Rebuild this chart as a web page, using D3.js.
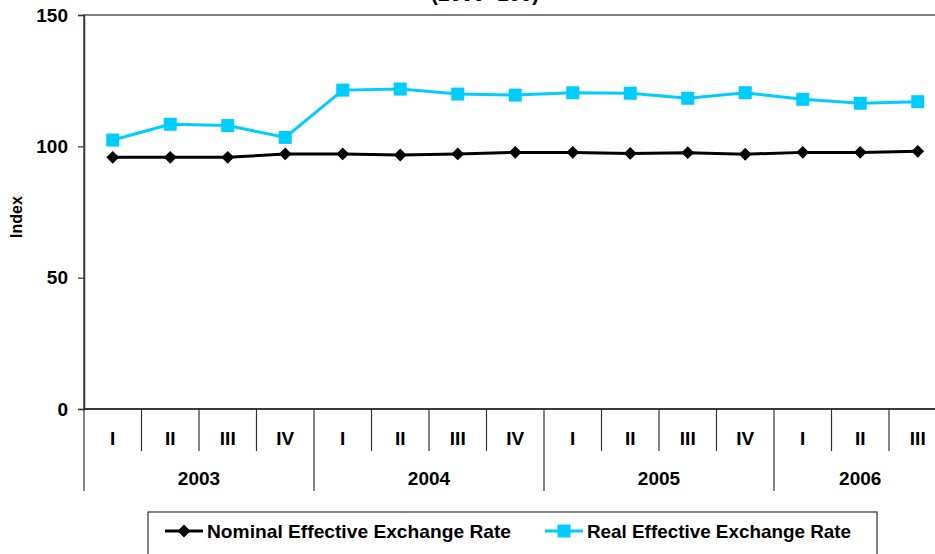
<!DOCTYPE html>
<html>
<head>
<meta charset="utf-8">
<script src="https://cdn.jsdelivr.net/npm/d3@7/dist/d3.min.js"></script>
<style>
  html, body { margin: 0; padding: 0; background: #fff; overflow: hidden; }
  text { font-family: "Liberation Sans", Arial, sans-serif; font-weight: bold; fill: #000; }
</style>
</head>
<body>
<svg id="chart" width="935" height="554"></svg>
<script>
// Quarterly effective exchange rate indices, 2003 Q1 – 2006 Q3 (2000=100)
const quarters = ["I","II","III","IV","I","II","III","IV","I","II","III","IV","I","II","III"];
const years = ["2003","2003","2003","2003","2004","2004","2004","2004","2005","2005","2005","2005","2006","2006","2006"];
const nominal = [95.8, 95.8, 95.8, 97.1, 97.1, 96.7, 97.1, 97.7, 97.7, 97.3, 97.6, 97.0, 97.7, 97.7, 98.1];
const real    = [102.4, 108.4, 107.9, 103.4, 121.4, 121.8, 119.9, 119.5, 120.4, 120.2, 118.3, 120.4, 117.9, 116.4, 117.0];
const yTicks = [0, 50, 100, 150];
const seriesNames = ["Nominal Effective Exchange Rate", "Real Effective Exchange Rate"];

const svg = d3.select("#chart");
const plotLeft = 84, plotTop = 15, plotBottom = 409, bandW = 57.5;
const plotRight = plotLeft + bandW * quarters.length;

const x = d3.scaleBand().domain(d3.range(quarters.length)).range([plotLeft, plotRight]).padding(0);
const y = d3.scaleLinear().domain([0, 150]).range([plotBottom, plotTop]);
const cx = i => x(i) + x.bandwidth() / 2;

// Title (second line)
svg.append("text").attr("x", 485).attr("y", 1).attr("text-anchor", "middle")
  .style("font-size", "21px").text("(2000=100)");

// Plot area border
svg.append("rect").attr("x", plotLeft).attr("y", plotTop).attr("width", plotRight - plotLeft).attr("height", plotBottom - plotTop)
  .attr("fill", "none").attr("stroke", "#808080").attr("stroke-width", 2);

// Y axis
const yAxis = svg.append("g").attr("transform", `translate(${plotLeft},0)`)
  .call(d3.axisLeft(y).tickValues(yTicks).tickSize(6).tickPadding(10));
yAxis.select(".domain").attr("stroke", "#333").attr("stroke-width", 1.5);
yAxis.selectAll(".tick line").attr("stroke", "#333").attr("stroke-width", 1.2);
yAxis.selectAll(".tick text").style("font-size", "19px").style("font-family", "Liberation Sans, Arial, sans-serif").style("font-weight", "bold");

svg.append("text").attr("transform", `translate(22,217) rotate(-90)`)
  .attr("text-anchor", "middle").style("font-size", "16px").text("Index");

// X axis: quarter row and year row
svg.append("line").attr("x1", plotLeft).attr("x2", plotRight).attr("y1", plotBottom).attr("y2", plotBottom)
  .attr("stroke", "#222").attr("stroke-width", 1.5);

const qg = svg.append("g");
quarters.forEach((q, i) => {
  const newYear = i === 0 || years[i] !== years[i - 1];
  qg.append("line").attr("x1", x(i)).attr("x2", x(i)).attr("y1", plotBottom)
    .attr("y2", newYear ? 491 : 451).attr("stroke", "#333").attr("stroke-width", 1.2);
  qg.append("text").attr("x", cx(i)).attr("y", 445).attr("text-anchor", "middle")
    .style("font-size", "19px").text(q);
});
const yearGroups = d3.groups(d3.range(quarters.length), i => years[i]);
yearGroups.forEach(([yr, idx]) => {
  const x0 = x(idx[0]), x1 = x(idx[idx.length - 1]) + x.bandwidth();
  qg.append("text").attr("x", (x0 + x1) / 2).attr("y", 485).attr("text-anchor", "middle")
    .style("font-size", "19px").text(yr);
});

// Series
const line = d3.line().x((d, i) => cx(i)).y(d => y(d));
const diamond = d3.symbol().type(d3.symbolDiamond2).size(105);

svg.append("path").datum(nominal).attr("d", line).attr("fill", "none")
  .attr("stroke", "#000").attr("stroke-width", 3);
svg.append("g").selectAll("path").data(nominal).join("path")
  .attr("transform", (d, i) => `translate(${cx(i)},${y(d)})`)
  .attr("d", diamond).attr("fill", "#000");

svg.append("path").datum(real).attr("d", line).attr("fill", "none")
  .attr("stroke", "#00CCFF").attr("stroke-width", 3);
svg.append("g").selectAll("rect").data(real).join("rect")
  .attr("x", (d, i) => cx(i) - 6.5).attr("y", d => y(d) - 6.5)
  .attr("width", 13).attr("height", 13).attr("fill", "#00CCFF");

// Legend
const lg = svg.append("g");
lg.append("rect").attr("x", 148).attr("y", 512).attr("width", 729).attr("height", 50)
  .attr("fill", "#fff").attr("stroke", "#333").attr("stroke-width", 1.2);
const items = [
  { name: seriesNames[0], x: 165, color: "#000", shape: "diamond", tw: 304 },
  { name: seriesNames[1], x: 545, color: "#00CCFF", shape: "square", tw: 264 }
];
items.forEach(it => {
  const ly = 531;
  lg.append("line").attr("x1", it.x).attr("x2", it.x + 38).attr("y1", ly).attr("y2", ly)
    .attr("stroke", it.color).attr("stroke-width", 3);
  if (it.shape === "diamond") {
    lg.append("path").attr("transform", `translate(${it.x + 19},${ly})`).attr("d", diamond).attr("fill", it.color);
  } else {
    lg.append("rect").attr("x", it.x + 12.5).attr("y", ly - 6.5).attr("width", 13).attr("height", 13).attr("fill", it.color);
  }
  lg.append("text").attr("x", it.x + 42).attr("y", ly + 7).style("font-size", "19px")
    .attr("textLength", it.tw).attr("lengthAdjust", "spacingAndGlyphs").text(it.name);
});
</script>
</body>
</html>
